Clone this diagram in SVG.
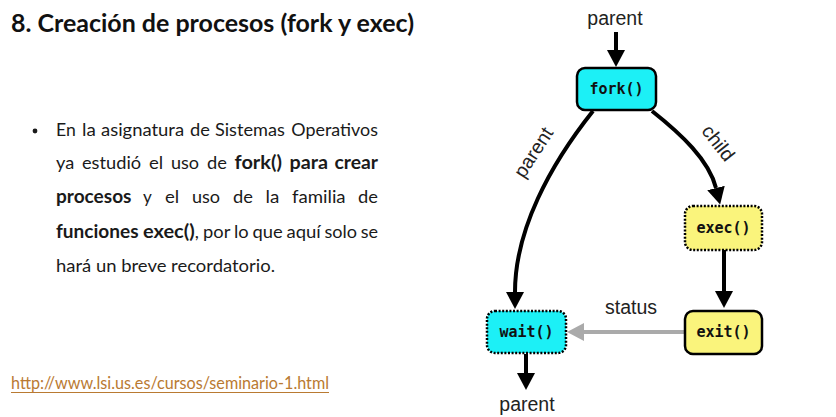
<svg xmlns="http://www.w3.org/2000/svg" width="836" height="417" viewBox="0 0 836 417">
  <style>
    .title { font-family: Lato, "Open Sans", sans-serif; font-weight: bold; font-size: 24px; fill: #111; }
    .body { font-family: Lato, "Open Sans", sans-serif; font-size: 18px; fill: #1a1a1a; }
    .b { font-weight: bold; }
    .link { font-family: Lato, "Open Sans", sans-serif; font-size: 18px; fill: #b97a32; }
    .lbl { font-family: "Liberation Sans", Arial, sans-serif; font-size: 19.5px; fill: #222; }
    .code { font-family: "DejaVu Sans Mono", "Liberation Mono", monospace; font-weight: bold; font-size: 15px; fill: #111; text-anchor: middle; }
    .cyan { fill: #1cf0f6; }
    .yellow { fill: #faf47c; }
    .solid { stroke: #000; stroke-width: 2.5; }
    .dotted { stroke: #000; stroke-width: 2.5; stroke-dasharray: 2 1.6; }
    .conn { fill: none; stroke: #000; stroke-width: 4; }
    .gray { fill: none; stroke: #aaaaaa; stroke-width: 4; }
  </style>
  <defs>
    <marker id="ah" viewBox="0 0 17 18" markerWidth="17" markerHeight="18" refX="0" refY="9" orient="auto" markerUnits="userSpaceOnUse">
      <path d="M0,0 L17,9 L0,18 z" fill="#000"/>
    </marker>
    <marker id="ahg" viewBox="0 0 17 18" markerWidth="17" markerHeight="18" refX="0" refY="9" orient="auto" markerUnits="userSpaceOnUse">
      <path d="M0,0 L17,9 L0,18 z" fill="#aaaaaa"/>
    </marker>
  </defs>
  <rect width="836" height="417" fill="#ffffff"/>

  <text class="title" x="11" y="32" textLength="403" lengthAdjust="spacingAndGlyphs">8. Creación de procesos (fork y exec)</text>

  <g id="bullet-text">
    <circle cx="35" cy="131" r="2.4" fill="#1a1a1a"/>
    <text class="body" y="136"><tspan x="56" textLength="19.8" lengthAdjust="spacingAndGlyphs">En</tspan><tspan x="82" textLength="13.8" lengthAdjust="spacingAndGlyphs">la</tspan><tspan x="101" textLength="83.1" lengthAdjust="spacingAndGlyphs">asignatura</tspan><tspan x="190" textLength="19.9" lengthAdjust="spacingAndGlyphs">de</tspan><tspan x="215" textLength="69.8" lengthAdjust="spacingAndGlyphs">Sistemas</tspan><tspan x="291.3" textLength="86.7" lengthAdjust="spacingAndGlyphs">Operativos</tspan></text>
    <text class="body" y="169"><tspan x="56" textLength="18.2" lengthAdjust="spacingAndGlyphs">ya</tspan><tspan x="82" textLength="59.1" lengthAdjust="spacingAndGlyphs">estudió</tspan><tspan x="149" textLength="14.2" lengthAdjust="spacingAndGlyphs">el</tspan><tspan x="171" textLength="28.1" lengthAdjust="spacingAndGlyphs">uso</tspan><tspan x="207" textLength="19.9" lengthAdjust="spacingAndGlyphs">de</tspan><tspan x="234.5" class="b" textLength="47.4" lengthAdjust="spacingAndGlyphs">fork()</tspan><tspan x="289.5" class="b" textLength="38.5" lengthAdjust="spacingAndGlyphs">para</tspan><tspan x="334.5" class="b" textLength="43.5" lengthAdjust="spacingAndGlyphs">crear</tspan></text>
    <text class="body" y="203"><tspan x="56" class="b" textLength="75.5" lengthAdjust="spacingAndGlyphs">procesos</tspan><tspan x="143" textLength="8.8" lengthAdjust="spacingAndGlyphs">y</tspan><tspan x="165" textLength="14.2" lengthAdjust="spacingAndGlyphs">el</tspan><tspan x="192" textLength="28.1" lengthAdjust="spacingAndGlyphs">uso</tspan><tspan x="233" textLength="19.9" lengthAdjust="spacingAndGlyphs">de</tspan><tspan x="265.5" textLength="13.8" lengthAdjust="spacingAndGlyphs">la</tspan><tspan x="292" textLength="53.6" lengthAdjust="spacingAndGlyphs">familia</tspan><tspan x="358.1" textLength="19.9" lengthAdjust="spacingAndGlyphs">de</tspan></text>
    <text class="body" y="238"><tspan x="56" class="b" textLength="82.5" lengthAdjust="spacingAndGlyphs">funciones</tspan><tspan x="143" class="b" textLength="51.7" lengthAdjust="spacingAndGlyphs">exec()</tspan><tspan>,</tspan><tspan x="203" textLength="27.3" lengthAdjust="spacingAndGlyphs">por</tspan><tspan x="234" textLength="14.7" lengthAdjust="spacingAndGlyphs">lo</tspan><tspan x="252.5" textLength="30.2" lengthAdjust="spacingAndGlyphs">que</tspan><tspan x="286.5" textLength="34.3" lengthAdjust="spacingAndGlyphs">aquí</tspan><tspan x="324.5" textLength="32.6" lengthAdjust="spacingAndGlyphs">solo</tspan><tspan x="360.7" textLength="17.3" lengthAdjust="spacingAndGlyphs">se</tspan></text>
    <text class="body" x="56" y="272" textLength="219" lengthAdjust="spacingAndGlyphs">hará un breve recordatorio.</text>
  </g>

  <g id="link">
    <text class="link" x="11" y="389" textLength="318" lengthAdjust="spacingAndGlyphs">http://www.lsi.us.es/cursos/seminario-1.html</text>
    <line x1="11" y1="392.5" x2="329" y2="392.5" stroke="#b97a32" stroke-width="1.2"/>
  </g>

  <g id="connectors">
    <line class="conn" x1="616" y1="32" x2="616" y2="50" marker-end="url(#ah)"/>
    <path class="conn" d="M593,111 C550,165 515,230 515,292" marker-end="url(#ah)"/>
    <path class="conn" d="M652,111 C681,134 709,160 716,188" marker-end="url(#ah)"/>
    <line class="conn" x1="724" y1="250" x2="724" y2="291" marker-end="url(#ah)"/>
    <line class="gray" x1="684" y1="332" x2="584" y2="332" marker-end="url(#ahg)"/>
    <line class="conn" x1="526" y1="354" x2="526" y2="373" marker-end="url(#ah)"/>
    <text class="lbl" x="615" y="25" text-anchor="middle">parent</text>
    <text class="lbl" text-anchor="middle" transform="translate(539,156) rotate(-57)">parent</text>
    <text class="lbl" text-anchor="middle" transform="translate(713,147) rotate(52)">child</text>
    <text class="lbl" x="631" y="314" text-anchor="middle">status</text>
    <text class="lbl" x="527" y="411" text-anchor="middle">parent</text>
  </g>

  <g id="fork">
    <rect class="cyan solid" x="577" y="68" width="79" height="42" rx="8"/>
    <text class="code" x="616.5" y="94">fork()</text>
  </g>
  <g id="exec">
    <rect class="yellow dotted" x="685" y="206" width="77" height="44" rx="8"/>
    <text class="code" x="723.5" y="233">exec()</text>
  </g>
  <g id="exit">
    <rect class="yellow solid" x="685" y="311" width="77" height="43" rx="8"/>
    <text class="code" x="723.5" y="337">exit()</text>
  </g>
  <g id="wait">
    <rect class="cyan dotted" x="487" y="311" width="79" height="42" rx="8"/>
    <text class="code" x="526.5" y="337">wait()</text>
  </g>
</svg>
